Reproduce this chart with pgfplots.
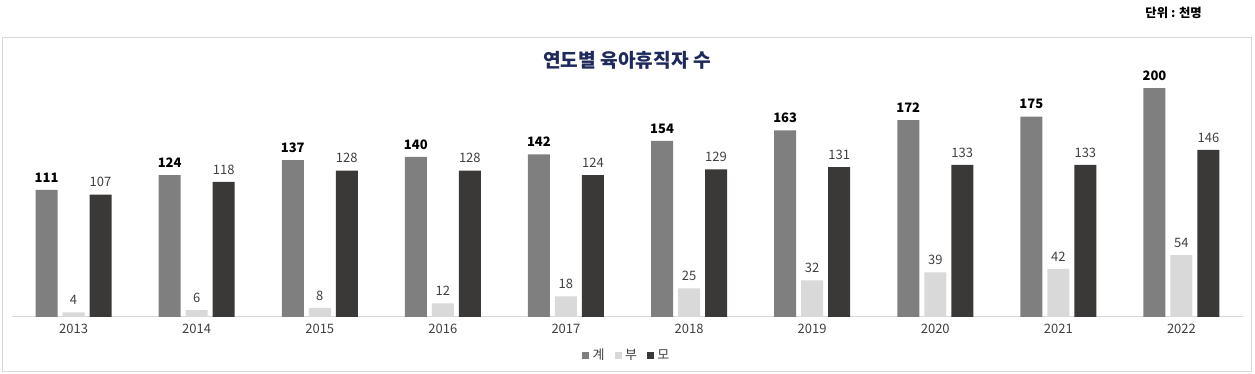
\documentclass[border=0pt]{standalone}
\usepackage{pgfplots}
\pgfplotsset{compat=1.18}
\usepackage{fontspec}
\setmainfont{Noto Sans CJK KR}
\definecolor{cTot}{HTML}{7F7F7F}
\definecolor{cDad}{HTML}{D9D9D9}
\definecolor{cMom}{HTML}{3B3838}
\definecolor{cTitle}{HTML}{1F2A5C}
\definecolor{cTxt}{HTML}{404040}
\definecolor{cFrame}{HTML}{D9D9D9}
\begin{document}
\begin{tikzpicture}
\path[use as bounding box] (0,0) rectangle (753pt,224.4pt);
\draw[cFrame, line width=0.6pt] (1.2pt,1.2pt) rectangle (750.6pt,201.6pt);
\node[text=cTitle, font=\fontsize{11.5}{13}\selectfont\bfseries] at (376.2pt,188.4pt) {연도별 육아휴직자 수};
\node[anchor=east, text=black, font=\fontsize{7.4}{8}\selectfont\bfseries] at (724.6pt,216.6pt) {단위 : 천명};
\begin{axis}[
  at={(7.2pt,34.2pt)}, anchor=south west,
  scale only axis, width=738.6pt, height=144.2pt,
  xmin=-0.5, xmax=9.5, ymin=0, ymax=210,
  axis x line*=bottom, hide y axis,
  x axis line style={draw=cFrame, line width=0.6pt},
  xtick=data, xticklabels={2013,2014,2015,2016,2017,2018,2019,2020,2021,2022},
  major tick length=0pt,
  /pgf/number format/assume math mode=true,
  ticklabel style={font=\fontsize{7.8}{9}\selectfont, text=cTxt},
  xticklabel style={yshift=-1pt},
  ybar, bar width=13.2pt,
  nodes near coords,
  every node near coord/.append style={font=\fontsize{7.8}{9}\selectfont, yshift=1pt},
  area legend,
  legend image code/.code={\fill[#1] (0pt,-2.1pt) rectangle (4.2pt,2.1pt);},
  legend columns=3,
  legend style={draw=none, fill=none, at={(0.5,-0.16)}, anchor=center,
    font=\fontsize{7.8}{9}\selectfont, text=cTxt,
    /tikz/every even column/.append style={column sep=4pt}},
]
\addplot[fill=cTot, draw=none, bar shift=-16.2pt,
  every node near coord/.append style={text=black, font=\fontsize{7.8}{9}\selectfont\bfseries}]
  coordinates {(0,111) (1,124) (2,137) (3,140) (4,142) (5,154) (6,163) (7,172) (8,175) (9,200)};
\addplot[fill=cDad, draw=none, bar shift=0pt,
  every node near coord/.append style={text=cTxt}]
  coordinates {(0,4) (1,6) (2,8) (3,12) (4,18) (5,25) (6,32) (7,39) (8,42) (9,54)};
\addplot[fill=cMom, draw=none, bar shift=16.2pt,
  every node near coord/.append style={text=cTxt}]
  coordinates {(0,107) (1,118) (2,128) (3,128) (4,124) (5,129) (6,131) (7,133) (8,133) (9,146)};
\legend{계,부,모}
\end{axis}
\end{tikzpicture}
\end{document}
